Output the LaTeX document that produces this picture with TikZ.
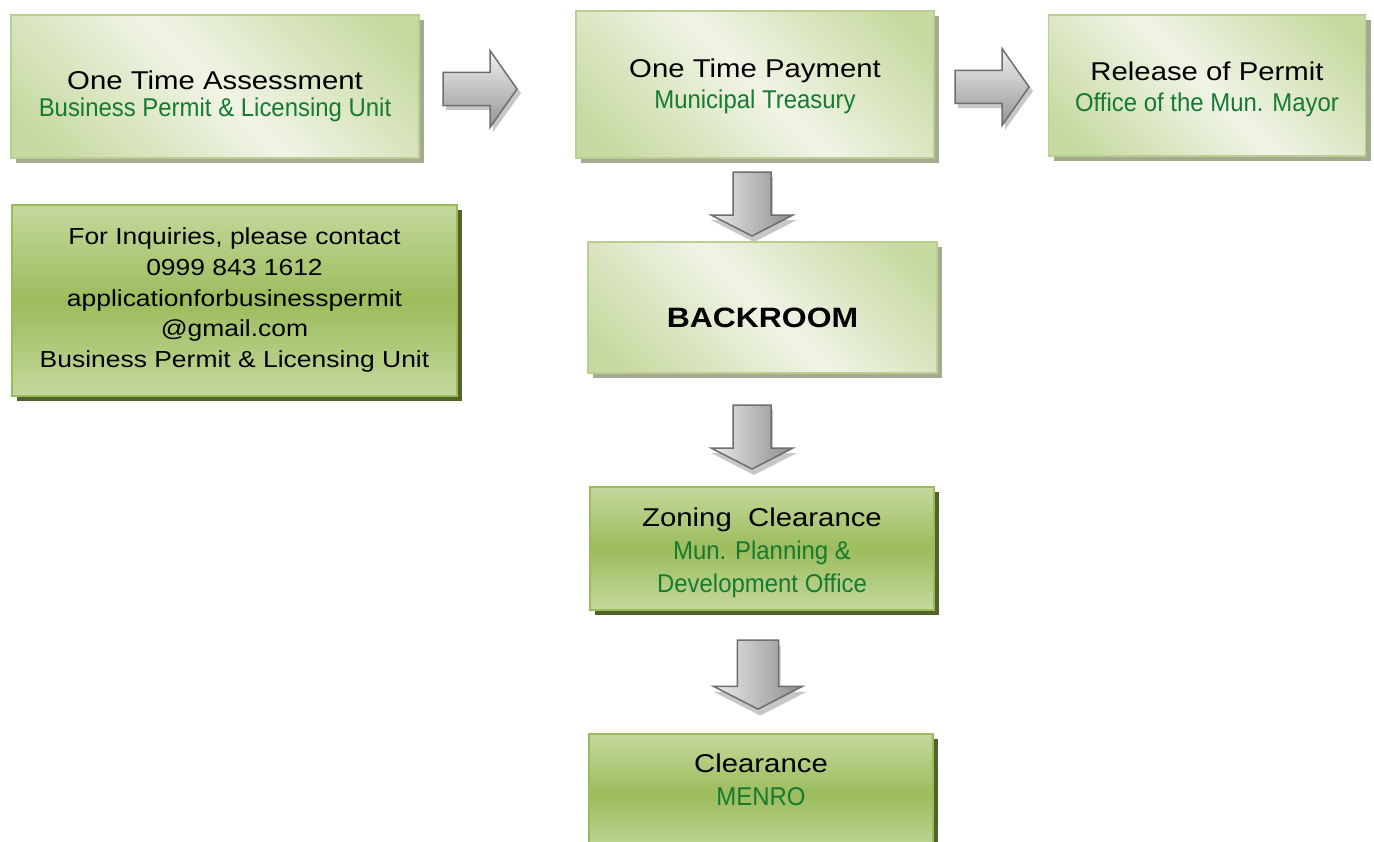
\documentclass[tikz,border=0pt]{standalone}
\usepackage{fontspec}
\setmainfont{Liberation Sans}[FakeStretch=1.14]
\newfontfamily\narrowfont{Liberation Sans}[FakeStretch=0.93]
\usetikzlibrary{shadows}
\usepackage{xcolor}
\definecolor{llight}{RGB}{240,244,230}
\definecolor{lgreen}{RGB}{198,217,160}
\definecolor{lborder}{RGB}{186,206,146}
\definecolor{lshadow}{RGB}{163,170,143}
\definecolor{dtop}{RGB}{197,216,157}
\definecolor{dmid}{RGB}{156,188,92}
\definecolor{dborder}{RGB}{155,187,89}
\definecolor{dshadow}{RGB}{80,99,42}
\definecolor{txtgreen}{RGB}{22,122,48}
\definecolor{arrline}{RGB}{110,110,110}
\pgfdeclarehorizontalshading{lboxshade}{100bp}{color(0bp)=(lgreen); color(20bp)=(lgreen); color(50bp)=(llight); color(80bp)=(lgreen); color(100bp)=(lgreen)}
\pgfdeclareverticalshading{dboxshade}{100bp}{color(0bp)=(dtop); color(25bp)=(dtop); color(50bp)=(dmid); color(75bp)=(dtop); color(100bp)=(dtop)}
\def\px{0.75pt}
\newcommand{\deptname}[1]{{\narrowfont\color{txtgreen}#1}}
% first-line height and last-line depth of a box text
\newcommand{\toprule}[1]{\rule{0pt}{#1}}
\newcommand{\botrule}[1]{\rule[-#1]{0pt}{0pt}}

\begin{document}
\begin{tikzpicture}[x=\px, y=-\px,
      lbox/.style={shade,shading=lboxshade,shading angle=45,draw=lborder,line width=1.5*\px,
        drop shadow={shadow xshift=5*\px,shadow yshift=-5*\px,fill=lshadow,opacity=1},
        align=center,inner sep=0pt,font=\fontsize{19.3}{23.6}\selectfont},
      dbox/.style={shade,shading=dboxshade,draw=dborder,line width=2*\px,
        drop shadow={shadow xshift=5*\px,shadow yshift=-5*\px,fill=dshadow,opacity=1},
        align=center,inner sep=0pt,font=\fontsize{19.3}{25}\selectfont},
      blockline/.style={draw=arrline,line width=1.5*\px},
      blockshadow/.style={fill=black!22},
      pics/rblock/.style={code={
        \fill[blockshadow] (3,21) -- (50,21) -- (50,43) -- (78,4) -- (50,-34) -- (50,-12) -- (3,-12) -- cycle;
        \path[blockline,top color=black!6,bottom color=black!42]
          (0,-16.5) -- (47,-16.5) -- (47,-38.5) -- (74,0) -- (47,38.5) -- (47,16.5) -- (0,16.5) -- cycle;
      }},
      pics/dblock/.style={code={
        \fill[blockshadow] (-17,5) -- (21,5) -- (21,48) -- (45,48) -- (2,70) -- (-41,48) -- (-17,48) -- cycle;
        \path[blockline,left color=black!8,right color=black!45]
          (-19,0) -- (19,0) -- (19,43) -- (41,43) -- (0,64) -- (-41,43) -- (-19,43) -- cycle;
      }}]
    \useasboundingbox[fill=white] (0,0) rectangle (1374,842);
    % top row
    \node[lbox,font=\fontsize{19.3}{20}\selectfont,minimum width=408*\px,minimum height=143*\px] (assess) at (215,86.5)
      {\toprule{31.1pt}One Time Assessment\\\deptname{Business Permit \& Licensing Unit}\botrule{6pt}};
    \node[lbox,minimum width=358*\px,minimum height=147*\px] (pay) at (755,84.5)
      {\toprule{18.4pt}One Time Payment\\\deptname{Municipal Treasury}\botrule{6pt}};
    \node[lbox,font=\fontsize{19.3}{24}\selectfont,minimum width=317*\px,minimum height=141*\px] (release) at (1207,85.5)
      {\toprule{21.75pt}Release of Permit\\\deptname{Office of the Mun. Mayor}\botrule{6pt}};
    \pic (h1) at (443,89) {rblock};
    \pic (h2) at (955,87) {rblock};
    % contact box
    \node[dbox,font=\fontsize{17.4}{23.1}\selectfont,minimum width=445*\px,minimum height=191*\px] (inquiry) at (234.5,300.5)
      {\toprule{13.5pt}For Inquiries, please contact\\0999 843 1612\\applicationforbusinesspermit\\@gmail.com\\Business Permit \& Licensing Unit\botrule{5.25pt}};
    % backroom column
    \pic (d1) at (752,172) {dblock};
    \node[lbox,font=\fontsize{21}{25}\selectfont\bfseries,minimum width=349*\px,minimum height=131*\px] (backroom) at (762.5,307.5)
      {\toprule{35.25pt}BACKROOM\botrule{6pt}};
    \pic (d2) at (752,405) {dblock};
    \node[dbox,minimum width=344*\px,minimum height=123*\px] (zoning) at (762,548.5)
      {\toprule{22.5pt}Zoning\ \ Clearance\\\deptname{Mun. Planning \&}\\\deptname{Development Office}\botrule{6pt}};
    \pic[scale=1.08] (d3) at (758,640) {dblock};
    \node[dbox,font=\fontsize{19.3}{24.75}\selectfont,minimum width=344*\px,anchor=north] (clear) at (761,733)
      {\toprule{28.5pt}Clearance\\\deptname{MENRO}\botrule{37.5pt}};
  \end{tikzpicture}
\end{document}
